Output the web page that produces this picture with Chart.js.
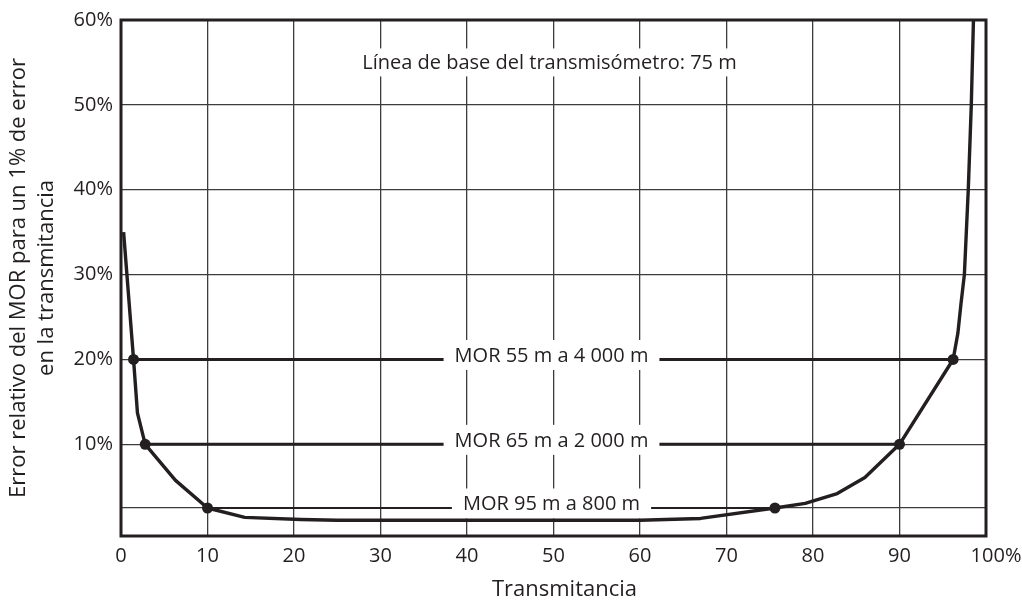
<!DOCTYPE html>
<html>
<head>
<meta charset="utf-8">
<script src="https://cdn.jsdelivr.net/npm/chart.js@4"></script>
<style>
  html, body { margin: 0; padding: 0; background: #fff; }
  #wrap { width: 1022px; height: 601px; }
</style>
</head>
<body>
<div id="wrap"><canvas id="errChart"></canvas></div>
<script>
// curve (x = transmitancia %, y = error %)
const curveX = [0.3, 1.45, 1.9, 2.8, 6.3, 10, 14.3, 20.8, 25, 40, 60, 67, 75.6, 79.1, 82.8, 86.0, 90, 96.2, 96.75, 97.1, 97.5, 97.95, 98.3, 98.55];
const curveY = [35, 20, 13.7, 10, 5.75, 2.5, 1.4, 1.15, 1.05, 1.05, 1.05, 1.27, 2.5, 3.04, 4.2, 6.1, 10, 20, 23.1, 26.5, 30, 40, 50, 60];

// marked points on the curve
const dotX = [1.45, 96.2, 2.8, 90, 10, 75.6];
const dotY = [20, 20, 10, 10, 2.5, 2.5];

// MOR ranges
const morLabels = ["MOR 55 m a 4 000 m", "MOR 65 m a 2 000 m", "MOR 95 m a 800 m"];
const morY = [20, 10, 2.5];
const morFrom = [1.45, 2.8, 10];
const morTo = [96.2, 90, 75.6];
const morWidth = [3, 3, 2.2];

const xTicks = [0, 10, 20, 30, 40, 50, 60, 70, 80, 90, 100];
const yTicks = [2.5, 10, 20, 30, 40, 50, 60];
const noteText = "Línea de base del transmisómetro: 75 m";

const ink = "#231f20";
const fontFamily = "'Open Sans', sans-serif";

const toPoints = (xs, ys) => xs.map((x, i) => ({ x: x, y: ys[i] }));

const datasets = [
    {
        label: "puntos",
        data: toPoints(dotX, dotY),
        showLine: false,
        pointRadius: 5.5,
        pointBackgroundColor: ink,
        pointBorderWidth: 0
    },
    {
        label: "error",
        data: toPoints(curveX, curveY),
        borderColor: ink,
        borderWidth: 3.4,
        pointRadius: 0,
        tension: 0,
        borderJoinStyle: "round"
    }
];
morY.forEach((y, i) => {
    datasets.push({
        label: morLabels[i],
        data: [{ x: morFrom[i], y: y }, { x: morTo[i], y: y }],
        borderColor: ink,
        borderWidth: morWidth[i],
        pointRadius: 0
    });
});

function labelBox(ctx, text, cx, cy, padX, h) {
    ctx.font = "20px " + fontFamily;
    const w = ctx.measureText(text).width + padX * 2;
    ctx.fillStyle = "#fff";
    ctx.fillRect(cx - w / 2, cy - h / 2, w, h);
    ctx.fillStyle = ink;
    ctx.textAlign = "center";
    ctx.textBaseline = "middle";
    ctx.fillText(text, cx, cy + 1);
}

const decor = {
    id: "decor",
    beforeDraw(chart) {
        const c = chart.ctx;
        c.save();
        c.fillStyle = "#fff";
        c.fillRect(0, 0, chart.width, chart.height);
        c.restore();
    },
    beforeDatasetDraw(chart, args) {
        if (args.index !== 1) return;
        const c = chart.ctx;
        const xs = chart.scales.x, ys = chart.scales.y;
        const cx = (xs.left + xs.right) / 2 - 2;
        c.save();
        morLabels.forEach((t, i) => {
            const py = ys.getPixelForValue(morY[i]);
            labelBox(c, t, cx, py - 4.5, 11, 30);
        });
        labelBox(c, noteText, cx - 2, ys.getPixelForValue(55), 10, 28);
        c.restore();
    },
    afterDraw(chart) {
        const a = chart.chartArea;
        const c = chart.ctx;
        c.save();
        c.strokeStyle = ink;
        c.lineWidth = 3;
        c.strokeRect(a.left, a.top, a.right - a.left, a.bottom - a.top);
        c.restore();
    }
};

new Chart(document.getElementById("errChart"), {
    type: "line",
    data: { datasets: datasets },
    plugins: [decor],
    options: {
        responsive: true,
        maintainAspectRatio: false,
        animation: false,
        layout: { padding: { left: 0, right: 36, top: 20, bottom: 0 } },
        plugins: {
            legend: { display: false },
            tooltip: { enabled: false }
        },
        scales: {
            x: {
                type: "linear",
                min: 0,
                max: 100,
                afterBuildTicks: (s) => { s.ticks = xTicks.map(v => ({ value: v })); },
                afterFit: (s) => { s.height = 65; s.paddingLeft = 0; s.paddingRight = 0; },
                ticks: {
                    color: ink,
                    padding: 8,
                    maxRotation: 0,
                    font: { family: fontFamily, size: 20 },
                    // keep "100" on its gridline, "%" hangs to the right
                    callback: (v) => v === 100 ? "\u2003100%" : String(v)
                },
                grid: { color: "#3c3c3c", lineWidth: 1.3, drawTicks: false },
                border: { display: false },
                title: {
                    display: true,
                    text: "\u2003Transmitancia",
                    color: ink,
                    font: { family: fontFamily, size: 22, lineHeight: 1.1 },
                    padding: { top: 0, bottom: -1 }
                }
            },
            y: {
                type: "linear",
                min: -0.8,
                max: 60,
                afterBuildTicks: (s) => { s.ticks = yTicks.map(v => ({ value: v })); },
                afterFit: (s) => { s.width = 121; s.paddingTop = 0; s.paddingBottom = 0; },
                ticks: {
                    color: ink,
                    padding: 8,
                    font: { family: fontFamily, size: 20 },
                    callback: (v) => v === 2.5 ? "" : v + "%"
                },
                grid: { color: "#3c3c3c", lineWidth: 1.3, drawTicks: false },
                border: { display: false },
                title: {
                    display: true,
                    text: ["Error relativo del MOR para un 1% de error", "en la transmitancia"],
                    color: ink,
                    font: { family: fontFamily, size: 22, lineHeight: 1.3 },
                    padding: { top: 4, bottom: 0 }
                }
            }
        }
    }
});
</script>
</body>
</html>
